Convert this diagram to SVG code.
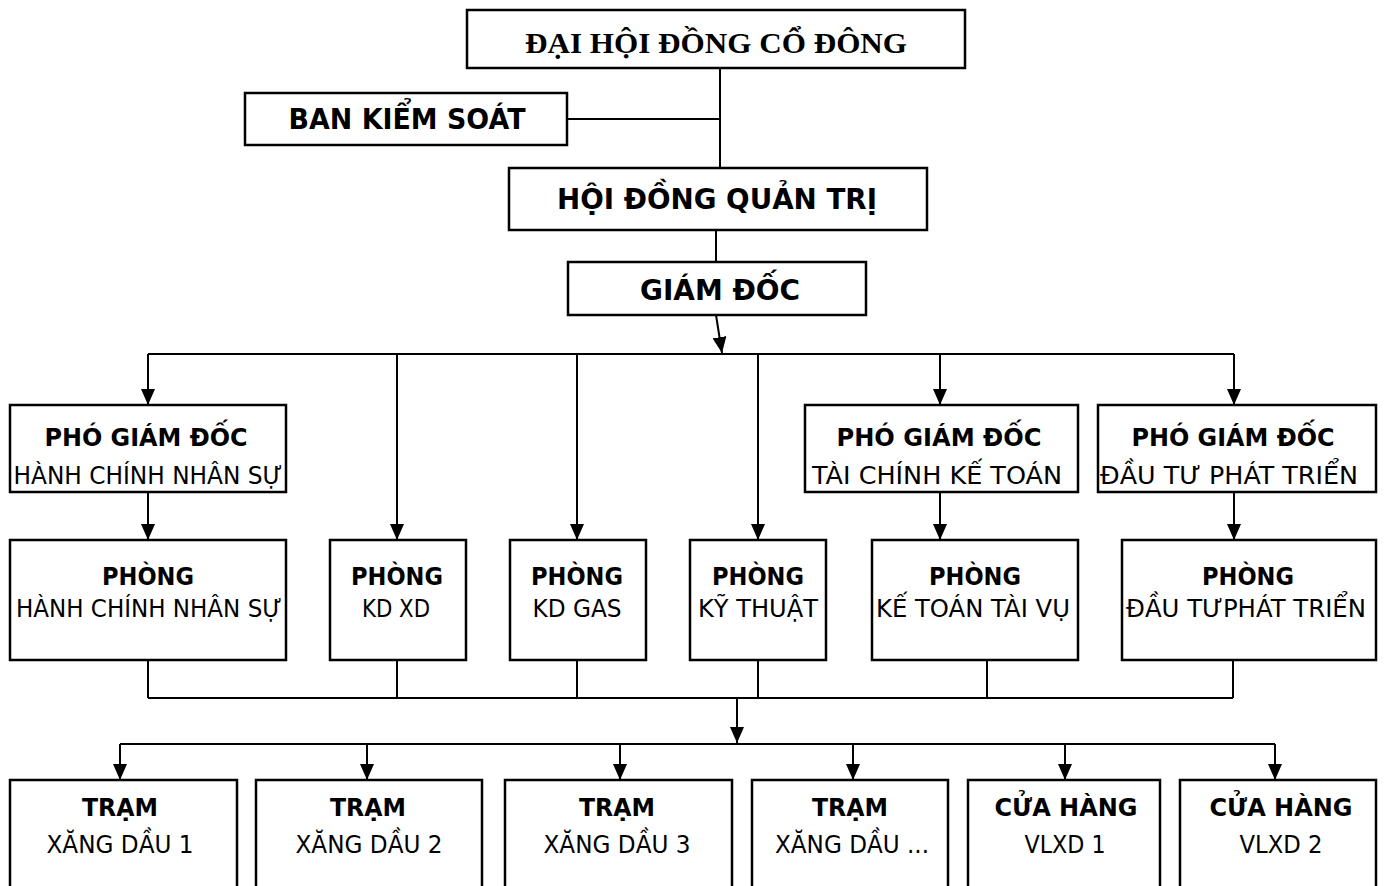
<svg xmlns="http://www.w3.org/2000/svg" width="1387" height="886" viewBox="0 0 1387 886">
<style>
.box{fill:#fff;stroke:#000;stroke-width:2.5}
.ln{fill:none;stroke:#000;stroke-width:2}
.ar{fill:none;stroke:#000;stroke-width:2;marker-end:url(#ah)}
.b{font-family:"DejaVu Sans","Liberation Sans",sans-serif;font-weight:bold;fill:#000;text-anchor:middle}
.r{font-family:"DejaVu Sans","Liberation Sans",sans-serif;fill:#000;text-anchor:middle}
.s{font-family:"Liberation Serif",serif;font-weight:bold;fill:#000;text-anchor:middle}
</style>
<defs>
<marker id="ah" markerUnits="userSpaceOnUse" markerWidth="17" markerHeight="14" refX="16" refY="7" orient="auto"><path d="M0,0 L16,7 L0,14 z" fill="#000"/></marker>
</defs>
<g id="connectors">
<path class="ln" d="M720,68 V168 M567,119 H720 M716,230 V262"/>
<path class="ar" d="M716,315 L722,353"/>
<path class="ln" d="M148,354 H1234"/>
<path class="ar" d="M148,354 V405"/>
<path class="ar" d="M397,354 V540"/>
<path class="ar" d="M577,354 V540"/>
<path class="ar" d="M758,354 V540"/>
<path class="ar" d="M940,354 V405"/>
<path class="ar" d="M1234,354 V405"/>
<path class="ar" d="M148,492 V540"/>
<path class="ar" d="M940,492 V540"/>
<path class="ar" d="M1234,492 V540"/>
<path class="ln" d="M148,660 V698 M397,660 V698 M577,660 V698 M758,660 V698 M987,660 V698 M1233,660 V698 M148,698 H1233"/>
<path class="ar" d="M737,698 V743"/>
<path class="ln" d="M120,744 H1275"/>
<path class="ar" d="M120,744 V780"/>
<path class="ar" d="M367,744 V780"/>
<path class="ar" d="M620,744 V780"/>
<path class="ar" d="M853,744 V780"/>
<path class="ar" d="M1065,744 V780"/>
<path class="ar" d="M1275,744 V780"/>
</g>
<g id="dhdcd"><rect class="box" x="467" y="10" width="498" height="58"/><text class="s" x="716" y="53" font-size="29" textLength="382" lengthAdjust="spacingAndGlyphs">ĐẠI HỘI ĐỒNG CỔ ĐÔNG</text></g>
<g id="bks"><rect class="box" x="245" y="93" width="322" height="52"/><text class="b" x="407" y="129" font-size="28" textLength="237" lengthAdjust="spacingAndGlyphs">BAN KIỂM SOÁT</text></g>
<g id="hdqt"><rect class="box" x="509" y="168" width="418" height="62"/><text class="b" x="717" y="209" font-size="29" textLength="320" lengthAdjust="spacingAndGlyphs">HỘI ĐỒNG QUẢN TRỊ</text></g>
<g id="gd"><rect class="box" x="568" y="262" width="298" height="53"/><text class="b" x="720" y="300" font-size="29" textLength="160" lengthAdjust="spacingAndGlyphs">GIÁM ĐỐC</text></g>
<g id="pgd1"><rect class="box" x="10" y="405" width="276" height="87"/><text class="b" x="146" y="446" font-size="25" textLength="203" lengthAdjust="spacingAndGlyphs">PHÓ GIÁM ĐỐC</text><text class="r" x="148" y="484" font-size="25" textLength="269" lengthAdjust="spacingAndGlyphs">HÀNH CHÍNH NHÂN SỰ</text></g>
<g id="pgd2"><rect class="box" x="805" y="405" width="273" height="87"/><text class="b" x="939" y="446" font-size="25" textLength="205" lengthAdjust="spacingAndGlyphs">PHÓ GIÁM ĐỐC</text><text class="r" x="937" y="484" font-size="25" textLength="250" lengthAdjust="spacingAndGlyphs">TÀI CHÍNH KẾ TOÁN</text></g>
<g id="pgd3"><rect class="box" x="1098" y="405" width="278" height="87"/><text class="b" x="1233" y="446" font-size="25" textLength="203" lengthAdjust="spacingAndGlyphs">PHÓ GIÁM ĐỐC</text><text class="r" x="1229" y="484" font-size="25" textLength="258" lengthAdjust="spacingAndGlyphs">ĐẦU TƯ PHÁT TRIỂN</text></g>
<g id="p1"><rect class="box" x="10" y="540" width="276" height="120"/><text class="b" x="148" y="585" font-size="25" textLength="92" lengthAdjust="spacingAndGlyphs">PHÒNG</text><text class="r" x="149" y="617" font-size="25" textLength="266" lengthAdjust="spacingAndGlyphs">HÀNH CHÍNH NHÂN SỰ</text></g>
<g id="p2"><rect class="box" x="330" y="540" width="136" height="120"/><text class="b" x="397" y="585" font-size="25" textLength="92" lengthAdjust="spacingAndGlyphs">PHÒNG</text><text class="r" x="396" y="617" font-size="25" textLength="68" lengthAdjust="spacingAndGlyphs">KD XD</text></g>
<g id="p3"><rect class="box" x="510" y="540" width="136" height="120"/><text class="b" x="577" y="585" font-size="25" textLength="92" lengthAdjust="spacingAndGlyphs">PHÒNG</text><text class="r" x="577" y="617" font-size="25" textLength="89" lengthAdjust="spacingAndGlyphs">KD GAS</text></g>
<g id="p4"><rect class="box" x="690" y="540" width="136" height="120"/><text class="b" x="758" y="585" font-size="25" textLength="92" lengthAdjust="spacingAndGlyphs">PHÒNG</text><text class="r" x="758" y="617" font-size="25" textLength="120" lengthAdjust="spacingAndGlyphs">KỸ THUẬT</text></g>
<g id="p5"><rect class="box" x="872" y="540" width="206" height="120"/><text class="b" x="975" y="585" font-size="25" textLength="92" lengthAdjust="spacingAndGlyphs">PHÒNG</text><text class="r" x="973" y="617" font-size="25" textLength="194" lengthAdjust="spacingAndGlyphs">KẾ TOÁN TÀI VỤ</text></g>
<g id="p6"><rect class="box" x="1122" y="540" width="254" height="120"/><text class="b" x="1248" y="585" font-size="25" textLength="92" lengthAdjust="spacingAndGlyphs">PHÒNG</text><text class="r" x="1246" y="617" font-size="25" textLength="240" lengthAdjust="spacingAndGlyphs">ĐẦU TƯPHÁT TRIỂN</text></g>
<g id="t1"><rect class="box" x="10" y="780" width="227" height="120"/><text class="b" x="120" y="816" font-size="25" textLength="76" lengthAdjust="spacingAndGlyphs">TRẠM</text><text class="r" x="120" y="853" font-size="25" textLength="147" lengthAdjust="spacingAndGlyphs">XĂNG DẦU 1</text></g>
<g id="t2"><rect class="box" x="256" y="780" width="226" height="120"/><text class="b" x="368" y="816" font-size="25" textLength="76" lengthAdjust="spacingAndGlyphs">TRẠM</text><text class="r" x="369" y="853" font-size="25" textLength="147" lengthAdjust="spacingAndGlyphs">XĂNG DẦU 2</text></g>
<g id="t3"><rect class="box" x="505" y="780" width="227" height="120"/><text class="b" x="617" y="816" font-size="25" textLength="76" lengthAdjust="spacingAndGlyphs">TRẠM</text><text class="r" x="617" y="853" font-size="25" textLength="147" lengthAdjust="spacingAndGlyphs">XĂNG DẦU 3</text></g>
<g id="t4"><rect class="box" x="752" y="780" width="196" height="120"/><text class="b" x="850" y="816" font-size="25" textLength="76" lengthAdjust="spacingAndGlyphs">TRẠM</text><text class="r" x="852" y="853" font-size="25" textLength="154" lengthAdjust="spacingAndGlyphs">XĂNG DẦU ...</text></g>
<g id="c1"><rect class="box" x="968" y="780" width="192" height="120"/><text class="b" x="1066" y="816" font-size="25" textLength="143" lengthAdjust="spacingAndGlyphs">CỬA HÀNG</text><text class="r" x="1065" y="853" font-size="25" textLength="81" lengthAdjust="spacingAndGlyphs">VLXD 1</text></g>
<g id="c2"><rect class="box" x="1180" y="780" width="196" height="120"/><text class="b" x="1281" y="816" font-size="25" textLength="143" lengthAdjust="spacingAndGlyphs">CỬA HÀNG</text><text class="r" x="1281" y="853" font-size="25" textLength="83" lengthAdjust="spacingAndGlyphs">VLXD 2</text></g>
</svg>
